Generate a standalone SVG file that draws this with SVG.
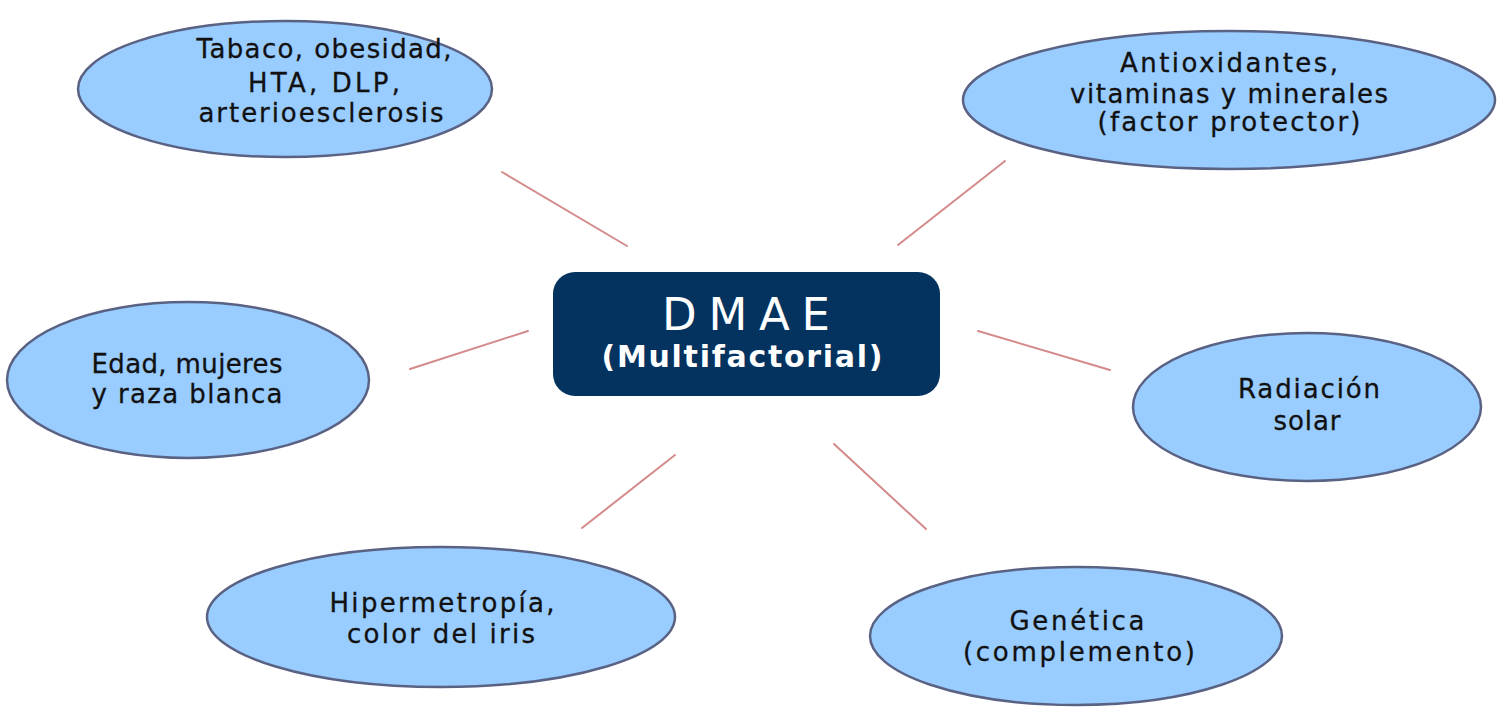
<svg xmlns="http://www.w3.org/2000/svg" width="1509" height="707" viewBox="0 0 1509 707">
<style>
.bub{fill:#99ccff;stroke:#5a6284;stroke-width:2.5}
.t{font-family:"DejaVu Sans","Open Sans","Liberation Sans",sans-serif;font-size:26px;fill:#111;stroke:#111;stroke-width:0.3;text-anchor:middle}
.c{stroke:#d48a8a;stroke-width:2;fill:none;stroke-linecap:round}
.w{font-family:"DejaVu Sans","Open Sans","Liberation Sans",sans-serif;fill:#fff;text-anchor:middle}
</style>
<rect width="1509" height="707" fill="#fff"/>
<g id="connectors">
<line class="c" x1="502" y1="172" x2="627" y2="246"/>
<line class="c" x1="410" y1="369" x2="528" y2="331"/>
<line class="c" x1="898" y1="245" x2="1005" y2="161"/>
<line class="c" x1="978" y1="331" x2="1110" y2="370"/>
<line class="c" x1="675" y1="455" x2="582" y2="528"/>
<line class="c" x1="834" y1="444" x2="926" y2="529"/>
</g>
<g id="center">
<rect x="553" y="272" width="387" height="124" rx="22" fill="#05335f"/>
<text class="w" x="746" y="330" font-size="45" textLength="168" lengthAdjust="spacing">DMAE</text>
<text class="w" x="742" y="367" font-size="30" font-weight="bold" textLength="281" lengthAdjust="spacing">(Multifactorial)</text>
</g>
<g id="n1">
<ellipse class="bub" cx="285" cy="89" rx="207" ry="68"/>
<text class="t" x="324" y="58" textLength="255" lengthAdjust="spacing">Tabaco, obesidad,</text>
<text class="t" x="324" y="92" textLength="152" lengthAdjust="spacing">HTA, DLP,</text>
<text class="t" x="321" y="122" textLength="245" lengthAdjust="spacing">arterioesclerosis</text>
</g>
<g id="n2">
<ellipse class="bub" cx="1229" cy="100" rx="266" ry="69"/>
<text class="t" x="1229" y="72" textLength="218" lengthAdjust="spacing">Antioxidantes,</text>
<text class="t" x="1229" y="103" textLength="318" lengthAdjust="spacing">vitaminas y minerales</text>
<text class="t" x="1229" y="131" textLength="263" lengthAdjust="spacing">(factor protector)</text>
</g>
<g id="n3">
<ellipse class="bub" cx="188" cy="380" rx="181" ry="78"/>
<text class="t" x="187" y="373" textLength="191" lengthAdjust="spacing">Edad, mujeres</text>
<text class="t" x="187" y="403" textLength="191" lengthAdjust="spacing">y raza blanca</text>
</g>
<g id="n4">
<ellipse class="bub" cx="1307" cy="407" rx="174" ry="74"/>
<text class="t" x="1309" y="398" textLength="142" lengthAdjust="spacing">Radiación</text>
<text class="t" x="1307" y="430" textLength="67" lengthAdjust="spacing">solar</text>
</g>
<g id="n5">
<ellipse class="bub" cx="441" cy="617" rx="234" ry="70"/>
<text class="t" x="442" y="612" textLength="225" lengthAdjust="spacing">Hipermetropía,</text>
<text class="t" x="441" y="643" textLength="188" lengthAdjust="spacing">color del iris</text>
</g>
<g id="n6">
<ellipse class="bub" cx="1076" cy="636" rx="206" ry="69"/>
<text class="t" x="1077" y="630" textLength="135" lengthAdjust="spacing">Genética</text>
<text class="t" x="1079" y="661" textLength="232" lengthAdjust="spacing">(complemento)</text>
</g>
</svg>
